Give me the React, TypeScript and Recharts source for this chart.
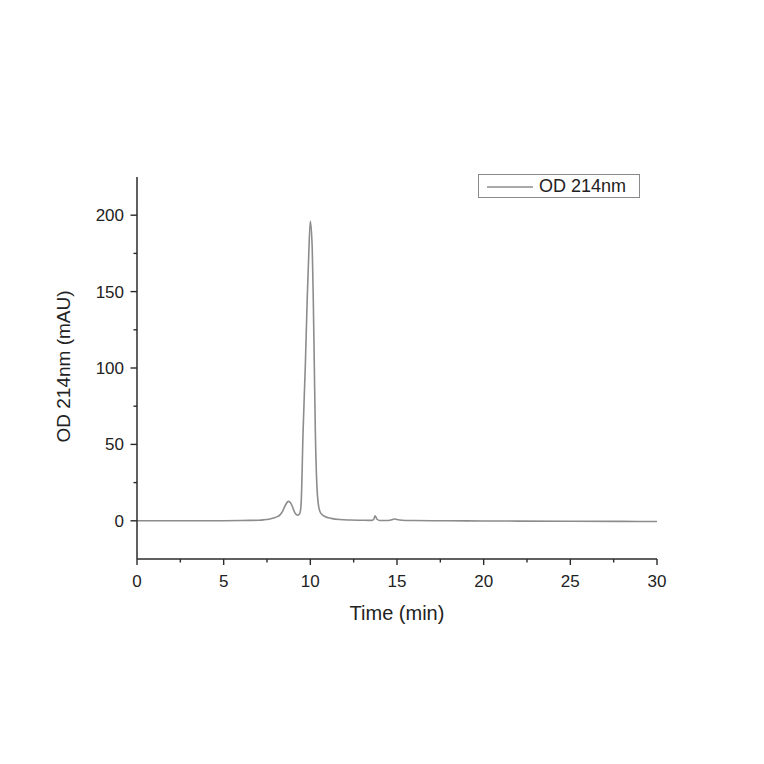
import React from "react";
import { LineChart, Line, XAxis, YAxis, Legend } from "recharts";

const timeMin = [
  0, 2, 4, 5, 6, 6.5, 7, 7.29, 7.6, 7.87, 8.1, 8.25, 8.38, 8.48, 8.6, 8.73, 8.82, 8.92, 9.02, 9.12, 9.2, 9.27, 9.34, 9.42,
  9.48, 9.58, 9.71, 9.82, 9.92, 10.0, 10.11, 10.17, 10.23, 10.29, 10.37, 10.48, 10.6, 10.84, 11.2, 11.7, 12.3, 13.0,
  13.5, 13.65, 13.73, 13.85, 14.0, 14.3, 14.6, 14.75, 14.84, 15.0, 15.3, 16, 17, 18, 20, 22, 25, 28, 30,
];
const od214 = [
  0, 0, 0, 0.05, 0.15, 0.25, 0.4, 0.6, 1.0, 1.8, 2.7, 3.9, 5.8, 8.3, 11.0, 12.7, 12.3, 10.5, 7.6, 5.0, 4.0, 3.7, 4.0, 6.0,
  14, 58, 101, 145, 178, 196, 178, 145, 101, 58, 25, 9.4, 5.0, 2.8, 1.6, 0.8, 0.5, 0.35,
  0.3, 0.8, 3.3, 1.0, 0.2, 0.2, 0.4, 0.9, 1.2, 0.8, 0.4, 0.2, 0.05, 0, -0.1, -0.2, -0.3, -0.4, -0.5,
];

const xTicks = [0, 2.5, 5, 7.5, 10, 12.5, 15, 17.5, 20, 22.5, 25, 27.5, 30];
const xMajor = [0, 5, 10, 15, 20, 25, 30];
const yTicks = [0, 25, 50, 75, 100, 125, 150, 175, 200];
const yMajor = [0, 50, 100, 150, 200];

const seriesName = "OD 214nm";
const xTitle = "Time (min)";
const yTitle = "OD 214nm (mAU)";

const data = timeMin.map((t, i) => ({ t, v: od214[i] }));

const FONT = "Liberation Sans, Arial, Helvetica, sans-serif";
const AXIS = "#2b2b2b";
const LINE = "#8c8c8c";

const XTick = (props: any) => {
  const { x, y, payload } = props;
  const major = xMajor.includes(payload.value);
  return (
    <g>
      <line x1={x} x2={x} y1={y} y2={y + (major ? 6 : 3.5)} stroke={AXIS} strokeWidth={1.4} />
      {major && (
        <text x={x} y={y + 28} textAnchor="middle" fontSize={17} fill="#222" fontFamily={FONT}>
          {payload.value}
        </text>
      )}
    </g>
  );
};

const YTick = (props: any) => {
  const { x, y, payload } = props;
  const major = yMajor.includes(payload.value);
  return (
    <g>
      <line x1={x - (major ? 6.5 : 3.5)} x2={x} y1={y} y2={y} stroke={AXIS} strokeWidth={1.4} />
      {major && (
        <text x={x - 13} y={y + 6} textAnchor="end" fontSize={17} fill="#222" fontFamily={FONT}>
          {payload.value}
        </text>
      )}
    </g>
  );
};

const LegendBox = () => (
  <div
    style={{
      width: 162,
      height: 24,
      border: "1px solid #8a8a8a",
      display: "flex",
      alignItems: "center",
      boxSizing: "border-box",
      background: "#fff",
    }}
  >
    <svg width={60} height={24} style={{ display: "block" }}>
      <line x1={8} x2={54} y1={13} y2={13} stroke={LINE} strokeWidth={1.6} />
    </svg>
    <span style={{ fontFamily: FONT, fontSize: 18, color: "#222", lineHeight: "24px" }}>{seriesName}</span>
  </div>
);

export default function App() {
  return (
    <div style={{ width: 748, height: 748, background: "#fff" }}>
      <LineChart width={748} height={748} data={data} margin={{ top: 169, right: 99, bottom: 113, left: 69 }}>
        <XAxis
          dataKey="t"
          type="number"
          domain={[0, 30]}
          ticks={xTicks}
          interval={0}
          allowDataOverflow
          tickLine={false}
          tickSize={0}
          tickMargin={0}
          tick={<XTick />}
          axisLine={{ stroke: AXIS, strokeWidth: 1.5 }}
          height={60}
          label={{
            content: (p: any) => {
              const vb = p.viewBox;
              return (
                <text
                  x={vb.x + vb.width / 2}
                  y={vb.y + 61}
                  textAnchor="middle"
                  fontSize={20}
                  fill="#222"
                  fontFamily={FONT}
                >
                  {xTitle}
                </text>
              );
            },
          }}
        />
        <YAxis
          type="number"
          domain={[-25, 225]}
          ticks={yTicks}
          interval={0}
          allowDataOverflow
          tickLine={false}
          tickSize={0}
          tickMargin={0}
          tick={<YTick />}
          axisLine={{ stroke: AXIS, strokeWidth: 1.5 }}
          width={60}
          label={{
            content: () => {
              const cx = 55;
              const cy = 358.5;
              return (
                <text
                  x={cx}
                  y={cy}
                  transform={`rotate(-90, ${cx}, ${cy})`}
                  textAnchor="middle"
                  dominantBaseline="central"
                  fontSize={19}
                  fill="#222"
                  fontFamily={FONT}
                >
                  {yTitle}
                </text>
              );
            },
          }}
        />
        <Legend
          content={() => <LegendBox />}
          wrapperStyle={{ position: "absolute", left: 470, top: 166, width: 162, height: 24 }}
        />
        <Line
          type="monotone"
          dataKey="v"
          name={seriesName}
          stroke={LINE}
          strokeWidth={1.6}
          dot={false}
          isAnimationActive={false}
        />
      </LineChart>
    </div>
  );
}
